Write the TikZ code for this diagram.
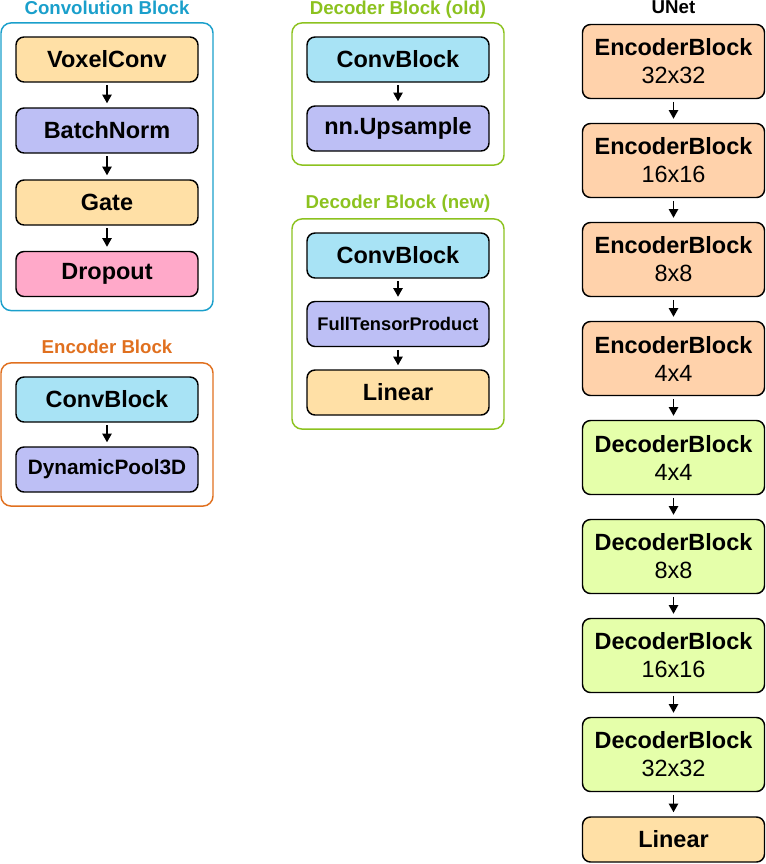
\documentclass[tikz,border=0pt]{standalone}
\usepackage{fontspec}
\setmainfont{Liberation Sans}
\usetikzlibrary{arrows.meta,positioning,fit}
\definecolor{convcyan}{RGB}{26,159,203}
\definecolor{encorange}{RGB}{224,112,31}
\definecolor{decgreen}{RGB}{140,194,31}
\definecolor{voxelfill}{RGB}{255,224,166}
\definecolor{normfill}{RGB}{189,191,245}
\definecolor{dropfill}{RGB}{255,169,201}
\definecolor{blockfill}{RGB}{168,227,245}
\definecolor{encfill}{RGB}{255,210,171}
\definecolor{decfill}{RGB}{229,255,170}
\tikzset{
  % 基础盒子
  blk/.style={
    draw=black,
    line width=1.1pt,
    rounded corners=6pt,
    minimum width=136.5pt,
    minimum height=33.75pt,
    inner sep=0pt,
    align=center,
    font=\fontsize{17.6}{21}\selectfont\bfseries
  },
  % UNet 中的高盒子
  tallblk/.style={blk, minimum height=55.5pt},
  % 外框
  frame/.style={
    line width=1.1pt,
    rounded corners=7.5pt,
    inner xsep=10.7pt,
    inner ysep=10pt
  },
  % 标题
  ttl/.style={anchor=base, inner sep=0pt, font=\fontsize{14}{16}\selectfont\bfseries},
  % 箭头样式
  arr/.style={-{Triangle[length=6.5pt,width=7pt]}, line width=1.1pt, shorten <=2pt, shorten >=3pt},
}
\begin{document}
\begin{tikzpicture}[x=0.75pt, y=-0.75pt]
    \useasboundingbox (0,0) rectangle (765,864);

    % Convolution block
    \node[blk, fill=voxelfill] (voxel) at (107,59.5) {VoxelConv};
    \node[blk, fill=normfill] (bnorm) at (107,130.5) {BatchNorm};
    \node[blk, fill=voxelfill] (gate) at (107,202.5) {Gate};
    \node[blk, fill=dropfill] (drop) at (107,274) {Dropout};
    \node[frame, draw=convcyan, fit=(voxel)(drop)] (convframe) {};
    \node[ttl, text=convcyan] (convtitle) at (107,14) {Convolution Block};

    \draw[arr] (voxel) -- (bnorm);
    \draw[arr] (bnorm) -- (gate);
    \draw[arr] (gate) -- (drop);

    % Encoder block
    \node[blk, fill=blockfill] (encconv) at (107,399.5) {ConvBlock};
    \node[blk, fill=normfill, font=\fontsize{15.6}{18}\selectfont\bfseries] (pool) at (107,469.5) {DynamicPool3D};
    \node[frame, draw=encorange, fit=(encconv)(pool)] (encframe) {};
    \node[ttl, text=encorange] (enctitle) at (107,353) {Encoder Block};

    \draw[arr] (encconv) -- (pool);

    % Decoder block (old)
    \node[blk, fill=blockfill] (oldconv) at (398,59.5) {ConvBlock};
    \node[blk, fill=normfill] (upsample) at (398,128.5) {nn.Upsample};
    \node[frame, draw=decgreen, fit=(oldconv)(upsample)] (oldframe) {};
    \node[ttl, text=decgreen] (oldtitle) at (398,14) {Decoder Block (old)};

    \draw[arr] (oldconv) -- (upsample);

    % Decoder block (new)
    \node[blk, fill=blockfill] (newconv) at (398,255.5) {ConvBlock};
    \node[blk, fill=normfill, font=\fontsize{13.7}{16}\selectfont\bfseries] (tensor) at (398,324) {FullTensorProduct};
    \node[blk, fill=voxelfill] (newlin) at (398,392.5) {Linear};
    \node[frame, draw=decgreen, fit=(newconv)(newlin)] (newframe) {};
    \node[ttl, text=decgreen] (newtitle) at (398,208) {Decoder Block (new)};

    \draw[arr] (newconv) -- (tensor);
    \draw[arr] (tensor) -- (newlin);

    % UNet
    \node[ttl] (unettitle) at (673.5,13) {UNet};
    \node[tallblk, fill=encfill] (enc1) at (673.5,61.5) {EncoderBlock\\\mdseries 32x32};
    \node[tallblk, fill=encfill] (enc2) at (673.5,160.5) {EncoderBlock\\\mdseries 16x16};
    \node[tallblk, fill=encfill] (enc3) at (673.5,259.5) {EncoderBlock\\\mdseries 8x8};
    \node[tallblk, fill=encfill] (enc4) at (673.5,358.5) {EncoderBlock\\\mdseries 4x4};
    \node[tallblk, fill=decfill] (dec1) at (673.5,457.5) {DecoderBlock\\\mdseries 4x4};
    \node[tallblk, fill=decfill] (dec2) at (673.5,556.5) {DecoderBlock\\\mdseries 8x8};
    \node[tallblk, fill=decfill] (dec3) at (673.5,655.5) {DecoderBlock\\\mdseries 16x16};
    \node[tallblk, fill=decfill] (dec4) at (673.5,754.5) {DecoderBlock\\\mdseries 32x32};
    \node[blk, fill=voxelfill] (outlin) at (673.5,839.5) {Linear};

    \draw[arr] (enc1) -- (enc2);
    \draw[arr] (enc2) -- (enc3);
    \draw[arr] (enc3) -- (enc4);
    \draw[arr] (enc4) -- (dec1);
    \draw[arr] (dec1) -- (dec2);
    \draw[arr] (dec2) -- (dec3);
    \draw[arr] (dec3) -- (dec4);
    \draw[arr] (dec4) -- (outlin);
\end{tikzpicture}
\end{document}
